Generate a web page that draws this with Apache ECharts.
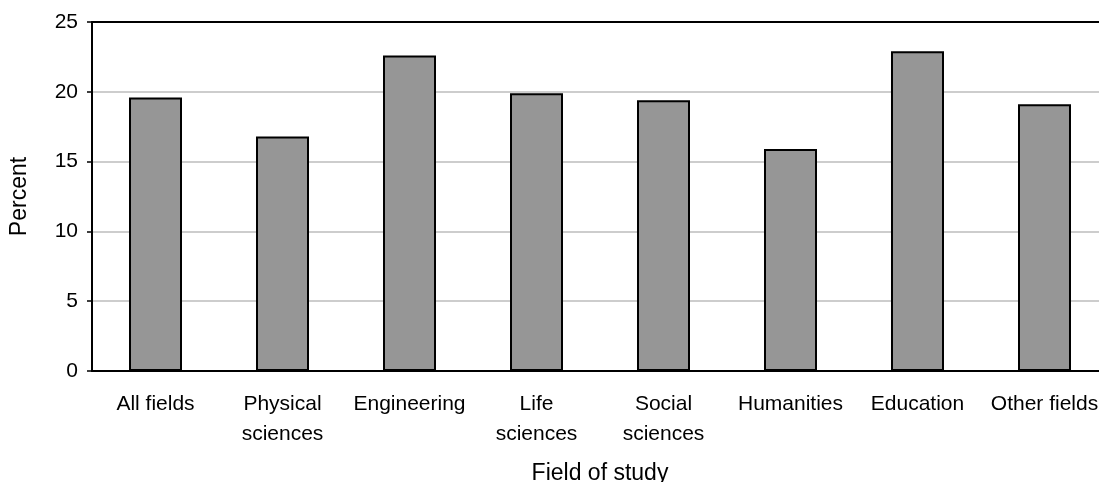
<!DOCTYPE html>
<html>
<head>
<meta charset="utf-8">
<script src="https://cdn.jsdelivr.net/npm/echarts@6/dist/echarts.min.js"></script>
<style>
  html, body { margin: 0; padding: 0; background: #fff; }
  #chart { width: 1099px; height: 482px; }
</style>
</head>
<body>
<div id="chart"></div>
<script>
const categories = ['All fields', 'Physical\nsciences', 'Engineering', 'Life\nsciences',
  'Social\nsciences', 'Humanities', 'Education', 'Other fields']
const percents = [19.6, 16.8, 22.6, 19.9, 19.4, 15.9, 22.9, 19.1]

const font = 'Liberation Sans, Arial, sans-serif'

const chart = echarts.init(document.getElementById('chart'), null, { renderer: 'canvas' })

chart.setOption({
  backgroundColor: '#fff',
  animation: false,
  grid: { left: 92, right: -9, top: 22, bottom: 111, outerBoundsMode: 'none', containLabel: false },
  xAxis: [
    {
      type: 'category', data: categories,
      name: 'Field of study', nameLocation: 'middle', nameGap: 91,
      nameTextStyle: { color: '#000', fontFamily: font, fontSize: 23 },
      axisLine: { lineStyle: { color: '#000', width: 2 } },
      axisTick: { show: false },
      axisLabel: { color: '#000', fontFamily: font, fontSize: 21, lineHeight: 30, margin: 18, interval: 0 }
    },
    {
      type: 'category', data: categories, position: 'top',
      axisLine: { lineStyle: { color: '#000', width: 2 } },
      axisTick: { show: false }, axisLabel: { show: false }
    }
  ],
  yAxis: {
    type: 'value', min: 0, max: 25, interval: 5,
    name: 'Percent', nameLocation: 'middle', nameGap: 61, nameRotate: 90,
    nameTextStyle: { color: '#000', fontFamily: font, fontSize: 23 },
    axisLine: { show: true, lineStyle: { color: '#000', width: 2 } },
    axisTick: { show: true, length: 5, lineStyle: { color: '#000', width: 1.5 } },
    axisLabel: { color: '#000', fontFamily: font, fontSize: 21, margin: 14 },
    splitLine: { lineStyle: { color: '#bdbdbd', width: 1.5 } }
  },
  series: [{
    type: 'bar', data: percents, barWidth: 53,
    itemStyle: { color: '#969696', borderColor: '#000', borderWidth: 2 }
  }]
})
</script>
</body>
</html>
